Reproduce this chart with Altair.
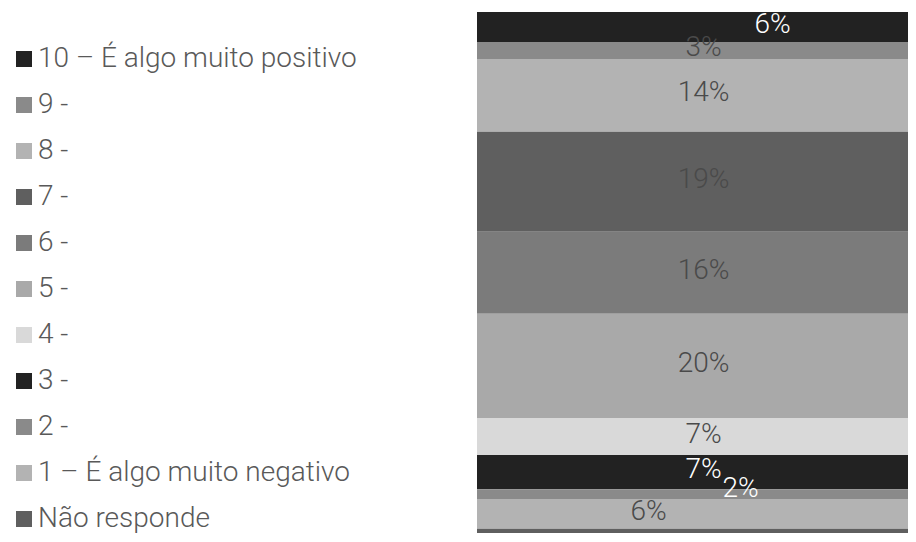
import altair as alt
import pandas as pd

categories = ["10 – É algo muito positivo", "9 -", "8 -", "7 -", "6 -", "5 -",
              "4 -", "3 -", "2 -", "1 – É algo muito negativo", "Não responde"]
values = [5.8, 3.3, 14.1, 19.4, 15.9, 20.2, 7.2, 6.6, 1.9, 5.8, 0.8]
colors = ["#222222", "#8a8a8a", "#b3b3b3", "#5f5f5f", "#7b7b7b", "#a9a9a9",
          "#d9d9d9", "#222222", "#8a8a8a", "#b3b3b3", "#5f5f5f"]

df = pd.DataFrame({
    "cat": categories,
    "value": values,
    "rank": list(range(len(categories))),
    "group": ["all"] * len(categories),
})
total = float(sum(values))

FONT = "Roboto"

base = alt.Chart(df).transform_stack(
    stack="value", as_=["y0", "y1"], groupby=["group"],
    sort=[alt.SortField("rank", order="descending")]
).transform_calculate(
    mid="(datum.y0 + datum.y1) / 2",
    label="format(round(datum.value), 'd') + '%'"
)

xenc = alt.X("group:N", axis=None, scale=alt.Scale(paddingInner=0, paddingOuter=0))
yscale = alt.Scale(domain=[0, total], nice=False, zero=True)

bars = base.mark_bar(strokeWidth=0).encode(
    x=xenc,
    y=alt.Y("y0:Q", axis=None, scale=yscale),
    y2="y1:Q",
    color=alt.Color(
        "cat:N",
        scale=alt.Scale(domain=categories, range=colors),
        legend=alt.Legend(
            title=None, orient="none", legendX=-467, legendY=33,
            symbolType="square", symbolSize=256, symbolStrokeWidth=0,
            labelFont=FONT, labelFontSize=28, labelFontWeight=300,
            labelColor="#595959", labelOffset=0, labelLimit=0,
            rowPadding=18,
        ),
    ),
)


def labels(cats, color, dx, dy=-2):
    return base.transform_filter(
        alt.FieldOneOfPredicate(field="cat", oneOf=cats)
    ).mark_text(
        font=FONT, fontSize=28, fontWeight=300, color=color,
        baseline="middle", align="center", dx=dx, dy=dy
    ).encode(
        x=xenc,
        y=alt.Y("mid:Q", axis=None, scale=yscale),
        text="label:N",
    )


grey = "#4a4a4a"
chart = alt.layer(
    bars,
    labels(categories[1:7], grey, 11),
    labels([categories[0]], "white", 80),
    labels([categories[7]], "white", 11),
    labels([categories[8]], "white", 48, -5),
    labels([categories[9]], grey, -44),
).properties(
    width=431, height=521,
    autosize=alt.AutoSizeParams(type="none"),
    padding={"left": 469, "top": 4, "right": 0, "bottom": 1},
).configure_view(stroke=None)

chart.save("out.html", embed_options={"renderer": "svg", "actions": False})
